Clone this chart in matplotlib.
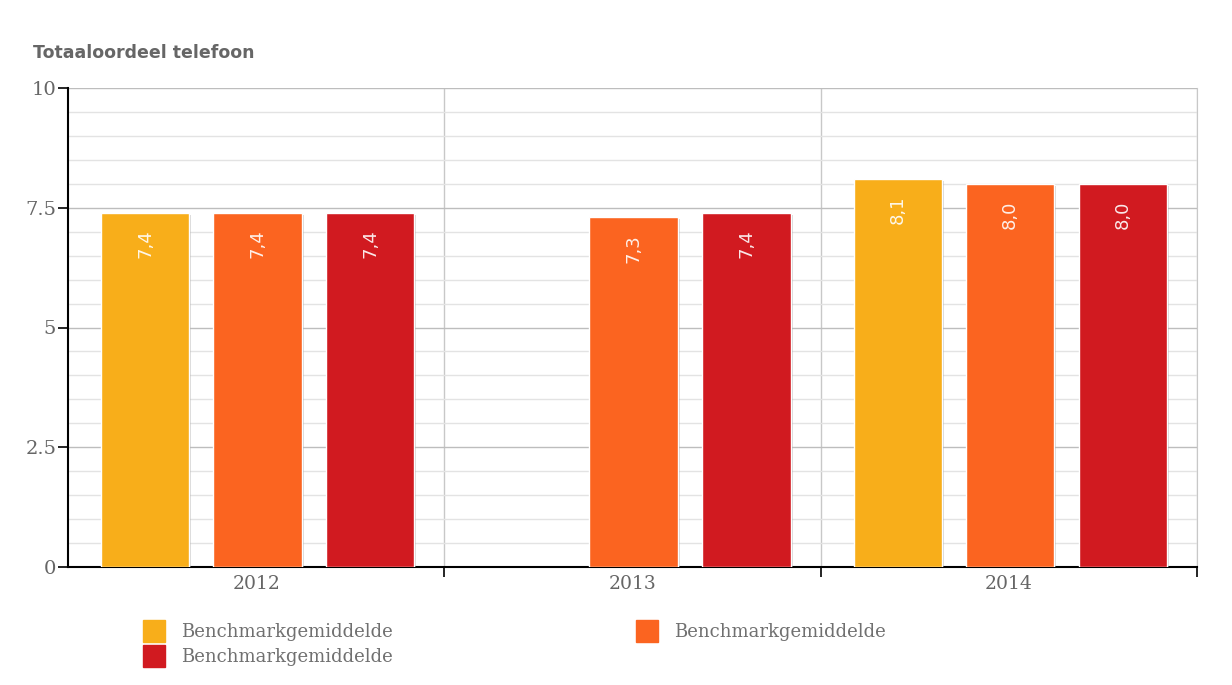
import matplotlib
matplotlib.use("Agg")
import matplotlib.pyplot as plt
import numpy as np
from matplotlib.lines import Line2D
from matplotlib import patheffects as pe

years = ["2012", "2013", "2014"]
series_names = ["Benchmarkgemiddelde", "Benchmarkgemiddelde", "Benchmarkgemiddelde"]
series_a = [7.4, None, 8.1]
series_b = [7.4, 7.3, 8.0]
series_c = [7.4, 7.4, 8.0]
colors = ["#F8AE1A", "#FB6420", "#D11A20"]
title = "Totaaloordeel telefoon"

fig = plt.figure(figsize=(12.32, 6.85), dpi=100)
ax = fig.add_axes([68/1232, 1-567/685, (1197-68)/1232, (567-88)/685])

x = np.arange(len(years))
width = 0.235
offsets = [-0.295, 0.003, 0.303]
shadow = [pe.SimplePatchShadow(offset=(1.5, -1.5), shadow_rgbFace="#888888", alpha=0.35), pe.Normal()]
for vals, off, col in zip([series_a, series_b, series_c], offsets, colors):
    for xi, v in zip(x, vals):
        if v is None:
            continue
        b = ax.bar(xi + off, v, width=width, color=col, edgecolor="white", linewidth=1, zorder=3)
        b[0].set_path_effects(shadow)
        ax.annotate(f"{v:.1f}".replace(".", ","), (xi + off, v), xytext=(0, -12),
                    textcoords="offset points", rotation=90, ha="center", va="top",
                    color="white", alpha=0.9, fontsize=13, family="DejaVu Sans", zorder=4)

ax.set_xlim(-0.5, 2.5)
ax.set_ylim(0, 10)
ax.set_yticks([0, 2.5, 5, 7.5, 10])
ax.set_yticklabels(["0", "2.5", "5", "7.5", "10"])
ax.set_yticks(np.arange(0, 10.01, 0.5), minor=True)
ax.set_xticks(x)
ax.set_xticklabels(years)
ax.set_xticks([0.5, 1.5, 2.5], minor=True)

ax.tick_params(axis="x", which="major", length=0, pad=6, labelsize=13.5, labelcolor="#666666")
ax.tick_params(axis="x", which="minor", length=7, width=1.2, color="black")
ax.tick_params(axis="y", which="major", length=7, width=1.2, color="black", labelsize=14, labelcolor="#666666", pad=1.5)
ax.tick_params(axis="y", which="minor", length=0)
for lab in ax.get_xticklabels() + ax.get_yticklabels():
    lab.set_family("DejaVu Serif")

ax.grid(axis="y", which="major", color="#bdbdbd", linewidth=1, zorder=0)
ax.grid(axis="y", which="minor", color="#e3e3e3", linewidth=1, zorder=0)
ax.grid(axis="x", which="minor", color="#c8c8c8", linewidth=1, zorder=0)
ax.set_axisbelow(True)

ax.spines["top"].set_visible(False)
ax.spines["right"].set_color("#c8c8c8")
ax.spines["left"].set_color("black")
ax.spines["left"].set_linewidth(1.5)
ax.spines["bottom"].set_color("black")
ax.spines["bottom"].set_linewidth(1.5)

fig.text(33/1232, 1-53/685, title, fontsize=12.5, fontweight="bold", color="#666666",
         family="DejaVu Sans", va="center", ha="left")

handles = [Line2D([], [], marker="s", linestyle="none", markersize=16, markerfacecolor=c,
                  markeredgecolor=c) for c in colors]
order = [0, 2, 1]
leg = fig.legend([handles[i] for i in order], [series_names[i] for i in order],
                 ncol=2, loc="upper left", bbox_to_anchor=(143/1232, 1-623/685),
                 frameon=False, prop={"family": "DejaVu Serif", "size": 13},
                 labelcolor="#707070", handlelength=1.2, handletextpad=0.9,
                 columnspacing=13.5, labelspacing=0.4, borderpad=0, borderaxespad=0)

fig.savefig("out.png", dpi=100, facecolor="white")
